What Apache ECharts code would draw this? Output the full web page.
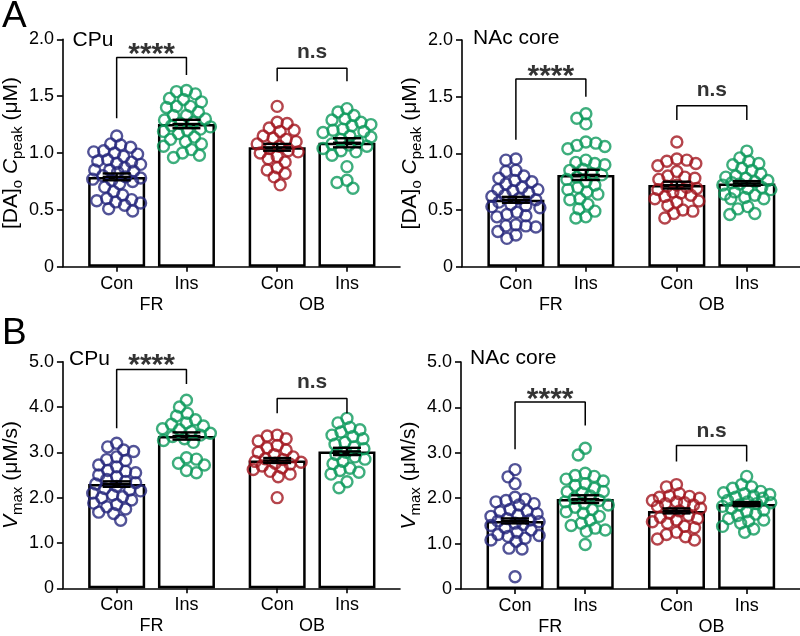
<!DOCTYPE html>
<html><head><meta charset="utf-8">
<script src="https://cdn.jsdelivr.net/npm/echarts@6/dist/echarts.min.js"></script>
<style>html,body{margin:0;padding:0;background:#fff}#c{width:800px;height:636px}</style>
</head><body><div id="c"></div>
<script>
// ---------- categories / ticks ----------
const condNames = ['Con', 'Ins', 'Con', 'Ins'];
const groupNames = ['FR', 'OB'];
const xPos = [1, 2, 3.3, 4.3];
const groupPos = [1.5, 3.8];
const yTicksA = [0, 0.5, 1.0, 1.5, 2.0];
const yTicksB = [0, 1.0, 2.0, 3.0, 4.0, 5.0];
const panelTitles = ['CPu', 'NAc core', 'CPu', 'NAc core'];
const panelLetters = ['A', 'B'];

// ---------- A: [DA]o Cpeak, CPu ----------
const cpuPeakFRCon = [1.15,1.08,1.07,1.05,1.02,1.01,1.0,0.99,0.97,0.94,0.93,0.92,0.91,0.9,0.87,0.85,0.85,0.84,0.83,0.8,0.79,0.78,0.77,0.76,0.75,0.73,0.7,0.66,0.63,0.6,0.59,0.58,0.57,0.56,0.54,0.51,0.49];
const cpuPeakFRIns = [1.55,1.54,1.52,1.48,1.47,1.45,1.41,1.41,1.40,1.36,1.33,1.33,1.30,1.29,1.27,1.26,1.24,1.23,1.21,1.2,1.19,1.17,1.14,1.12,1.1,1.08,1.06,1.03,1.0,0.98,0.96];
const cpuPeakOBCon = [1.41,1.27,1.26,1.22,1.2,1.19,1.15,1.13,1.12,1.1,1.08,1.06,1.04,1.02,1.01,1.0,0.97,0.95,0.92,0.87,0.85,0.82,0.79,0.72];
const cpuPeakOBIns = [1.39,1.36,1.33,1.3,1.29,1.27,1.25,1.24,1.21,1.2,1.19,1.18,1.15,1.14,1.12,1.1,1.08,1.07,1.06,1.04,1.02,1.01,0.98,0.88,0.76,0.74,0.69];
const cpuPeakMeans = [0.79, 1.255, 1.05, 1.09];
const cpuPeakSems = [0.03, 0.037, 0.03, 0.04];

// ---------- A: [DA]o Cpeak, NAc core ----------
const nacPeakFRCon = [0.95,0.94,0.85,0.84,0.8,0.78,0.76,0.75,0.73,0.7,0.68,0.68,0.67,0.65,0.63,0.62,0.6,0.59,0.57,0.55,0.54,0.53,0.52,0.48,0.46,0.45,0.44,0.37,0.36,0.36,0.35,0.31,0.28,0.25];
const nacPeakFRIns = [1.35,1.31,1.26,1.10,1.09,1.07,1.06,1.04,0.94,0.92,0.91,0.9,0.86,0.85,0.82,0.81,0.79,0.77,0.75,0.72,0.7,0.68,0.66,0.64,0.6,0.59,0.55,0.51,0.49,0.44,0.43];
const nacPeakOBCon = [1.1,0.95,0.94,0.93,0.91,0.89,0.84,0.8,0.79,0.78,0.77,0.72,0.71,0.7,0.69,0.68,0.66,0.65,0.63,0.62,0.6,0.58,0.57,0.54,0.5,0.49,0.47,0.43];
const nacPeakOBIns = [1.02,0.96,0.93,0.91,0.9,0.87,0.85,0.82,0.8,0.79,0.78,0.76,0.75,0.74,0.73,0.72,0.7,0.69,0.68,0.66,0.64,0.63,0.61,0.6,0.6,0.53,0.51,0.47,0.46];
const nacPeakMeans = [0.59, 0.81, 0.72, 0.735];
const nacPeakSems = [0.026, 0.045, 0.03, 0.02];

// ---------- B: Vmax, CPu ----------
const cpuVmaxFRCon = [3.2,3.12,3.05,3.02,2.9,2.84,2.82,2.72,2.68,2.6,2.58,2.55,2.5,2.46,2.4,2.36,2.33,2.3,2.25,2.2,2.17,2.15,2.1,2.06,2.02,2.0,1.95,1.88,1.85,1.8,1.75,1.68,1.65,1.5];
const cpuVmaxFRIns = [4.15,4.0,3.86,3.8,3.72,3.65,3.62,3.58,3.52,3.5,3.46,3.42,3.38,3.35,3.3,3.26,3.22,2.88,2.85,2.76,2.72,2.6,2.55];
const cpuVmaxOBCon = [3.38,3.36,3.3,3.25,3.15,3.1,3.05,3.0,2.95,2.9,2.86,2.84,2.8,2.78,2.76,2.74,2.7,2.66,2.62,2.58,2.52,2.46,2.0];
const cpuVmaxOBIns = [3.75,3.65,3.55,3.5,3.45,3.38,3.35,3.3,3.22,3.18,3.12,3.08,3.0,2.95,2.9,2.85,2.8,2.75,2.65,2.6,2.56,2.52,2.35,2.22];
const cpuVmaxMeans = [2.30, 3.36, 2.82, 3.02];
const cpuVmaxSems = [0.06, 0.08, 0.055, 0.08];

// ---------- B: Vmax, NAc core ----------
const nacVmaxFRCon = [2.63,2.47,2.32,2.02,1.98,1.95,1.92,1.88,1.85,1.75,1.72,1.7,1.66,1.63,1.6,1.55,1.52,1.5,1.48,1.45,1.42,1.4,1.35,1.3,1.25,1.2,1.18,1.16,1.12,1.08,1.05,0.9,0.88,0.27];
const nacVmaxFRIns = [3.1,2.95,2.55,2.5,2.48,2.42,2.38,2.32,2.28,2.22,2.15,2.14,2.12,2.05,2.0,1.95,1.92,1.88,1.85,1.8,1.75,1.7,1.67,1.6,1.52,1.45,1.4,1.34,1.3,1.27,0.98];
const nacVmaxOBCon = [2.3,2.25,2.1,2.05,2.04,2.02,2.0,1.95,1.92,1.9,1.88,1.85,1.82,1.78,1.72,1.67,1.62,1.58,1.55,1.52,1.48,1.45,1.38,1.35,1.25,1.2,1.15,1.1,1.08];
const nacVmaxOBIns = [2.48,2.3,2.25,2.22,2.15,2.12,2.1,2.08,2.05,2.02,2.0,1.95,1.92,1.9,1.88,1.85,1.82,1.78,1.74,1.7,1.65,1.62,1.55,1.52,1.5,1.45,1.38,1.32,1.25];
const nacVmaxMeans = [1.50, 1.98, 1.72, 1.87];
const nacVmaxSems = [0.055, 0.085, 0.055, 0.045];

// ---------- significance brackets: [fromIdx, toIdx, top, leftLegEnd, rightLegEnd, label, labelLevel] ----------
const cpuPeakBrackets = [[0, 1, 1.84, 1.305, 1.686, '****', 1.928], [2, 3, 1.745, 1.63, 1.63, 'n.s', 1.868]];
const nacPeakBrackets = [[0, 1, 1.655, 1.12, 1.50, '****', 1.736], [2, 3, 1.42, 1.295, 1.295, 'n.s', 1.539]];
const cpuVmaxBrackets = [[0, 1, 4.83, 3.53, 4.51, '****', 5.06], [2, 3, 4.19, 3.86, 3.86, 'n.s', 4.505]];
const nacVmaxBrackets = [[0, 1, 4.12, 3.08, 3.60, '****', 4.32], [2, 3, 3.16, 2.81, 2.81, 'n.s', 3.43]];

// ---------- styling ----------
const FONT = "'Liberation Sans', Arial, sans-serif";
const groupColors = ['#27287d', '#0e9a5c', '#a3161f', '#0e9a5c'];
const grids = [
  {left: 62, top: 39.3, width: 338, height: 227.4},
  {left: 462, top: 40, width: 338, height: 226.7},
  {left: 61, top: 361.7, width: 339, height: 226.6},
  {left: 461, top: 362, width: 339, height: 227}
];
const X_MIN = 0.23, X_MAX = 5.06, KX = 70;

const panels = [
  {groups: [cpuPeakFRCon, cpuPeakFRIns, cpuPeakOBCon, cpuPeakOBIns], means: cpuPeakMeans, sems: cpuPeakSems, brackets: cpuPeakBrackets, ticks: yTicksA, kind: 'peak'},
  {groups: [nacPeakFRCon, nacPeakFRIns, nacPeakOBCon, nacPeakOBIns], means: nacPeakMeans, sems: nacPeakSems, brackets: nacPeakBrackets, ticks: yTicksA, kind: 'peak'},
  {groups: [cpuVmaxFRCon, cpuVmaxFRIns, cpuVmaxOBCon, cpuVmaxOBIns], means: cpuVmaxMeans, sems: cpuVmaxSems, brackets: cpuVmaxBrackets, ticks: yTicksB, kind: 'vmax'},
  {groups: [nacVmaxFRCon, nacVmaxFRIns, nacVmaxOBCon, nacVmaxOBIns], means: nacVmaxMeans, sems: nacVmaxSems, brackets: nacVmaxBrackets, ticks: yTicksB, kind: 'vmax'}
];

// beeswarm-style horizontal spread (layout only), returned in x data units
function swarm(vals, ky) {
  const D = 9.5, maxOff = 24;
  const idx = vals.map((v, i) => i).sort((a, b) => vals[b] - vals[a]);
  const placed = [];
  const off = new Array(vals.length).fill(0);
  let flip = 1;
  for (const i of idx) {
    const y = vals[i] * ky;
    let found = null, bestX = 0, bestD = -1;
    for (let s = 0; s <= maxOff && found === null; s += 1) {
      const cands = s === 0 ? [0] : [s * flip, -s * flip];
      for (const x of cands) {
        let md = Infinity;
        for (const p of placed) { const d = Math.hypot(p[0] - x, p[1] - y); if (d < md) md = d; }
        if (md >= D) { found = x; break; }
        if (md > bestD) { bestD = md; bestX = x; }
      }
    }
    const x = found !== null ? found : bestX;
    placed.push([x, y]);
    off[i] = x / KX;
    flip = -flip;
  }
  return off;
}

function nearestIdx(arr, v) {
  let b = 0; for (let i = 1; i < arr.length; i++) if (Math.abs(arr[i] - v) < Math.abs(arr[b] - v)) b = i; return b;
}

const xAxes = [], yAxes = [], series = [];
const richName = {
  n: {fontSize: 21, fontFamily: FONT, color: '#000', verticalAlign: 'top', lineHeight: 21},
  i: {fontSize: 21, fontFamily: FONT, color: '#000', fontStyle: 'italic', verticalAlign: 'top', lineHeight: 21},
  s: {fontSize: 15, fontFamily: FONT, color: '#000', verticalAlign: 'top', lineHeight: 15, padding: [9, 0, 0, 0]}
};

panels.forEach((p, pi) => {
  const g = grids[pi];
  const yMax = p.ticks[p.ticks.length - 1];
  const interval = p.ticks[1] - p.ticks[0];
  const ky = g.height / yMax;
  xAxes.push({
    type: 'value', gridIndex: pi, min: X_MIN, max: X_MAX, position: 'bottom',
    splitLine: {show: false},
    axisLine: {show: true, onZero: false, lineStyle: {color: '#000', width: 1.6}},
    axisTick: {show: true, customValues: xPos, length: 5, lineStyle: {color: '#000', width: 1.6}},
    axisLabel: {customValues: xPos, margin: 8, fontSize: 18, color: '#000', fontFamily: FONT,
      formatter: v => condNames[nearestIdx(xPos, v)]}
  });
  xAxes.push({
    type: 'value', gridIndex: pi, min: X_MIN, max: X_MAX, position: 'bottom', offset: 21,
    splitLine: {show: false}, axisLine: {show: false}, axisTick: {show: false},
    axisLabel: {customValues: groupPos, margin: 8, fontSize: 18, color: '#000', fontFamily: FONT,
      formatter: v => groupNames[nearestIdx(groupPos, v)]}
  });
  yAxes.push({
    type: 'value', gridIndex: pi, min: 0, max: yMax, interval: interval,
    splitLine: {show: false},
    axisLine: {show: true, lineStyle: {color: '#000', width: 1.6}},
    axisTick: {show: true, length: 6, lineStyle: {color: '#000', width: 1.6}},
    axisLabel: {margin: 9, fontSize: 18, color: '#000', fontFamily: FONT,
      formatter: v => v === 0 ? '0' : v.toFixed(1)},
    name: p.kind === 'peak' ? '{n|[DA]}{s|o}{n| }{i|C}{s|peak}{n| (μM)}' : '{i|V}{s|max}{n| (μM/s)}',
    nameLocation: 'middle', nameRotate: 90, nameGap: 38,
    nameTextStyle: {rich: richName, fontSize: 21, color: '#000', fontFamily: FONT}
  });
  const xi = pi * 2;
  // bars (means)
  series.push({
    type: 'bar', xAxisIndex: xi, yAxisIndex: pi, barWidth: 57, z: 1, silent: true,
    itemStyle: {color: '#fff', borderColor: '#000', borderWidth: 2.5},
    data: xPos.map((x, i) => [x, p.means[i]])
  });
  // individual points
  p.groups.forEach((vals, gi) => {
    const off = swarm(vals, ky);
    series.push({
      type: 'scatter', xAxisIndex: xi, yAxisIndex: pi, z: 2, silent: true,
      symbol: 'circle', symbolSize: 11,
      itemStyle: {color: 'rgba(255,255,255,0)', borderColor: groupColors[gi], borderWidth: 2.4},
      data: vals.map((v, j) => [xPos[gi] + off[j], v])
    });
  });
  // error bars (SEM)
  series.push({
    type: 'custom', xAxisIndex: xi, yAxisIndex: pi, z: 3, silent: true,
    data: xPos.map((x, i) => [x, p.means[i], p.sems[i]]),
    renderItem: (params, api) => {
      const x = api.value(0), m = api.value(1), s = api.value(2);
      const t = api.coord([x, m + s]), b = api.coord([x, m - s]), c = api.coord([x, m]);
      const hw = 14, st = {stroke: '#000', lineWidth: 2.4};
      return {type: 'group', children: [
        {type: 'line', shape: {x1: t[0], y1: t[1], x2: b[0], y2: b[1]}, style: st},
        {type: 'line', shape: {x1: t[0] - hw, y1: t[1], x2: t[0] + hw, y2: t[1]}, style: st},
        {type: 'line', shape: {x1: b[0] - hw, y1: b[1], x2: b[0] + hw, y2: b[1]}, style: st},
        {type: 'line', shape: {x1: c[0] - hw, y1: c[1], x2: c[0] + hw, y2: c[1]}, style: st}
      ]};
    }
  });
  // significance brackets and labels
  p.brackets.forEach(br => {
    const [a, b, top, legA, legB, txt, lvl] = br;
    series.push({
      type: 'line', xAxisIndex: xi, yAxisIndex: pi, z: 3, silent: true, symbol: 'none', clip: false,
      lineStyle: {color: '#000', width: 1.5},
      data: [[xPos[a], legA], [xPos[a], top], [xPos[b], top], [xPos[b], legB]]
    });
    const isStar = txt.indexOf('*') >= 0;
    series.push({
      type: 'scatter', xAxisIndex: xi, yAxisIndex: pi, z: 4, silent: true, clip: false,
      symbol: 'circle', symbolSize: 2, itemStyle: {color: 'rgba(0,0,0,0)'},
      data: [[(xPos[a] + xPos[b]) / 2, lvl]],
      label: {show: true, position: 'inside', formatter: txt, color: '#000', fontFamily: FONT,
        fontWeight: 'bold', fontSize: isStar ? 30 : 21, offset: isStar ? [0, 7] : [0, -2]}
    });
  });
});

const titles = [
  {text: panelLetters[0], left: 2, top: -2, textStyle: {fontSize: 37}},
  {text: panelLetters[1], left: 2, top: 315, textStyle: {fontSize: 37}},
  {text: panelTitles[0], left: 72.5, top: 29.5, textStyle: {fontSize: 21}},
  {text: panelTitles[1], left: 473, top: 28, textStyle: {fontSize: 21}},
  {text: panelTitles[2], left: 69, top: 349, textStyle: {fontSize: 21}},
  {text: panelTitles[3], left: 470, top: 348, textStyle: {fontSize: 21}}
].map(t => Object.assign(t, {padding: 0, textStyle: Object.assign(t.textStyle, {fontWeight: 'normal', color: '#000', fontFamily: FONT})}));

const chart = echarts.init(document.getElementById('c'), null, {renderer: 'canvas'});
chart.setOption({
  animation: false,
  backgroundColor: '#fff',
  textStyle: {fontFamily: FONT},
  title: titles,
  grid: grids,
  xAxis: xAxes,
  yAxis: yAxes,
  series: series
});
</script>
</body></html>
